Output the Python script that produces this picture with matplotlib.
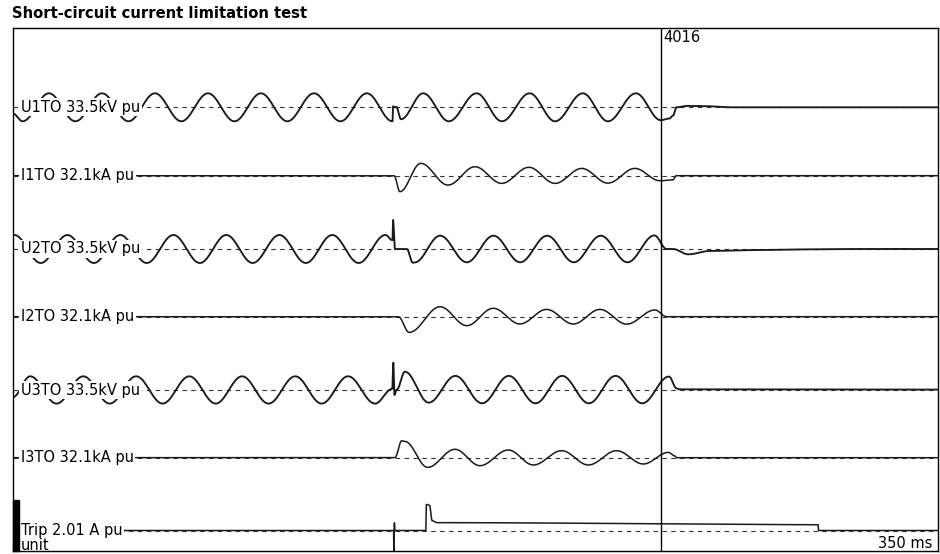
import numpy as np
import matplotlib
matplotlib.use("Agg")
import matplotlib.pyplot as plt
from matplotlib.patches import Rectangle

# values: times in ms, values in pu (1 pu = pre-fault voltage peak)
u1_t = [0, 3.6, 13.6, 23.6, 33.7, 43.7, 53.7, 63.7, 73.8, 83.8, 93.8, 103.8, 113.9, 123.9, 133.9,
        143.6, 143.8, 144.4, 145.0, 146.8,
        155.2, 164.9, 175.4, 185.0, 195.5, 205.1, 215.6, 225.1, 235.7, 245.1,
        248.4, 249.7, 251.1, 254.9, 262.0, 272.0, 350.0]
u1_v = [-0.45, -1, 1, -1, 1, -1, 1, -1, 1, -1, 1, -1, 1, -1, 1,
        -1, 0.07, 0.0, 0.03, -0.85,
        1, -1, 1, -1, 1, -1, 1, -1, 1, -0.92,
        -0.8, -0.6, 0.0, 0.1, 0.08, 0.0, 0.0]

i1_t = [0, 144.2, 146.4, 154.3, 164.6, 174.8, 184.9, 195.2, 205.1, 215.2, 225.1, 235.3, 244.8, 249.7, 251.0, 350]
i1_v = [0, 0, -1.14, 0.88, -0.67, 0.64, -0.55, 0.6, -0.55, 0.52, -0.53, 0.52, -0.36, -0.3, 0.0, 0.0]

u2_t = [0, 0.5, 10.5, 20.6, 30.6, 40.6, 50.6, 60.7, 70.7, 80.7, 90.7, 100.8, 110.8, 120.8, 130.8, 140.9,
        143.6, 143.8, 144.5, 149.0, 151.3, 152.0,
        161.6, 171.7, 181.8, 191.9, 202.1, 212.2, 222.4, 232.5, 242.7,
        247.3, 249.7, 255.5, 263.7, 280.0, 300.0, 320.0, 350.0]
u2_v = [0.99, 1, -1, 1, -1, 1, -1, 1, -1, 1, -1, 1, -1, 1, -1, 1,
        0.63, 2.07, 0.0, 0.0, -0.98, -0.96,
        0.95, -0.95, 0.95, -0.95, 0.95, -0.95, 0.95, -0.95, 0.97,
        0.0, 0.0, -0.38, -0.14, -0.08, -0.03, 0.0, 0.0]

i2_t = [0, 145.8, 149.9, 161.6, 171.7, 181.7, 191.8, 201.9, 212.0, 222.1, 232.2, 242.9, 247.3, 350]
i2_v = [0, 0, -1.12, 0.71, -0.64, 0.6, -0.52, 0.52, -0.52, 0.52, -0.53, 0.48, 0.0, 0.0]

u3_t = [0, 6.5, 16.5, 26.6, 36.6, 46.6, 56.6, 66.7, 76.7, 86.7, 96.7, 106.8, 116.8, 126.8, 137.0,
        143.5, 143.9, 144.3, 145.2, 148.3,
        157.3, 167.4, 177.5, 187.6, 197.7, 207.8, 217.9, 228.0, 238.1,
        248.2, 251.1, 252.0, 350]
u3_v = [-0.48, 1, -0.95, 1, -0.95, 1, -0.95, 1, -0.95, 1, -0.95, 1, -0.95, 1, -0.95,
        0.1, 1.98, -0.33, 0.05, 1.33,
        -0.88, 1.03, -0.93, 1.03, -0.93, 1.03, -0.93, 1.03, -0.93,
        0.98, 0.14, 0.07, 0.05]

i3_t = [0, 144.5, 147.1, 148.3, 156.9, 167.2, 176.7, 187.4, 196.9, 207.6, 217.7, 228.4, 238.5, 248.0, 250.5, 251.1, 350]
i3_v = [0, 0, 1.21, 1.16, -0.69, 0.6, -0.57, 0.55, -0.52, 0.5, -0.52, 0.5, -0.45, 0.38, 0.12, 0.0, 0.0]

trip_t = [0, 144.0, 144.1, 144.3, 144.5, 156.2, 156.4, 157.6, 158.6, 160.5, 304.6, 304.8, 350]
trip_v = [0, 0, -1.45, 0.55, 0, 0, 1.86, 1.8, 0.7, 0.56, 0.42, 0.0, 0.0]

labels = ["U1TO 33.5kV pu", "I1TO 32.1kA pu", "U2TO 33.5kV pu", "I2TO 32.1kA pu",
          "U3TO 33.5kV pu", "I3TO 32.1kA pu", "Trip 2.01 A pu"]
channels = [(u1_t, u1_v), (i1_t, i1_v), (u2_t, u2_v), (i2_t, i2_v),
            (u3_t, u3_v), (i3_t, i3_v), (trip_t, trip_v)]
cursor_ms = 245.2
cursor_label = "4016"
span_ms = 350

# layout (pixel rows of each channel's zero line, px per pu)
baselines = [107.3, 175.7, 249.0, 316.7, 390.3, 457.7, 530.5]
px_per_pu = 14.0
line_w = [1.35, 1.1, 1.35, 1.1, 1.35, 1.1, 1.1]


def trace(ts, vs):
    # smooth (half-cosine) path through the read extremes
    xs, ys = [], []
    for i in range(len(ts) - 1):
        s = np.linspace(0, 1, 40, endpoint=False)
        xs.append(ts[i] + (ts[i + 1] - ts[i]) * s)
        ys.append(vs[i] + (vs[i + 1] - vs[i]) * (1 - np.cos(np.pi * s)) / 2)
    xs.append([ts[-1]])
    ys.append([vs[-1]])
    return np.concatenate(xs), np.concatenate(ys)


fig = plt.figure(figsize=(9.4, 5.54), dpi=100)
ax = fig.add_axes([13 / 940, 3 / 554, 925 / 940, 523 / 554])
ax.set_xlim(0, span_ms)
ax.set_ylim(551, 28)

for sp in ax.spines.values():
    sp.set_color("black")
    sp.set_linewidth(1.0)
ax.set_xticks([])
ax.set_yticks(baselines)
ax.set_yticklabels([])
ax.tick_params(axis="y", direction="in", length=3, width=0.8, color="#444")

for k, (ts, vs) in enumerate(channels):
    y0 = baselines[k]
    ax.axhline(y0, color="#333333", lw=0.8, dashes=(4, 4), zorder=1)
    x, v = trace(ts, vs)
    ax.plot(x, y0 - v * px_per_pu, color="#1a1a1a", lw=line_w[k], zorder=2)
    ax.text(3.0, y0, labels[k], fontsize=10.5, va="center", ha="left", zorder=5,
            bbox=dict(boxstyle="square,pad=0.1", fc="white", ec="none"))

# unit indicator bar and label on the last channel
ax.add_patch(Rectangle((0, 500), 2.3, 51, color="black", zorder=6, clip_on=False))
ax.text(3.0, 545.5, "unit", fontsize=10.5, va="center", ha="left", zorder=5)

ax.axvline(cursor_ms, color="black", lw=1.0, zorder=4)
ax.text(cursor_ms + 1.0, 38, cursor_label, fontsize=10.5, va="center", ha="left")
ax.text(span_ms - 2.2, 543.5, "350 ms", fontsize=10.5, va="center", ha="right")

fig.text(12 / 940, 1 - 14 / 554, "Short-circuit current limitation test",
         fontsize=10.6, fontweight="bold", va="center", ha="left")

fig.savefig("out.png", dpi=100)
